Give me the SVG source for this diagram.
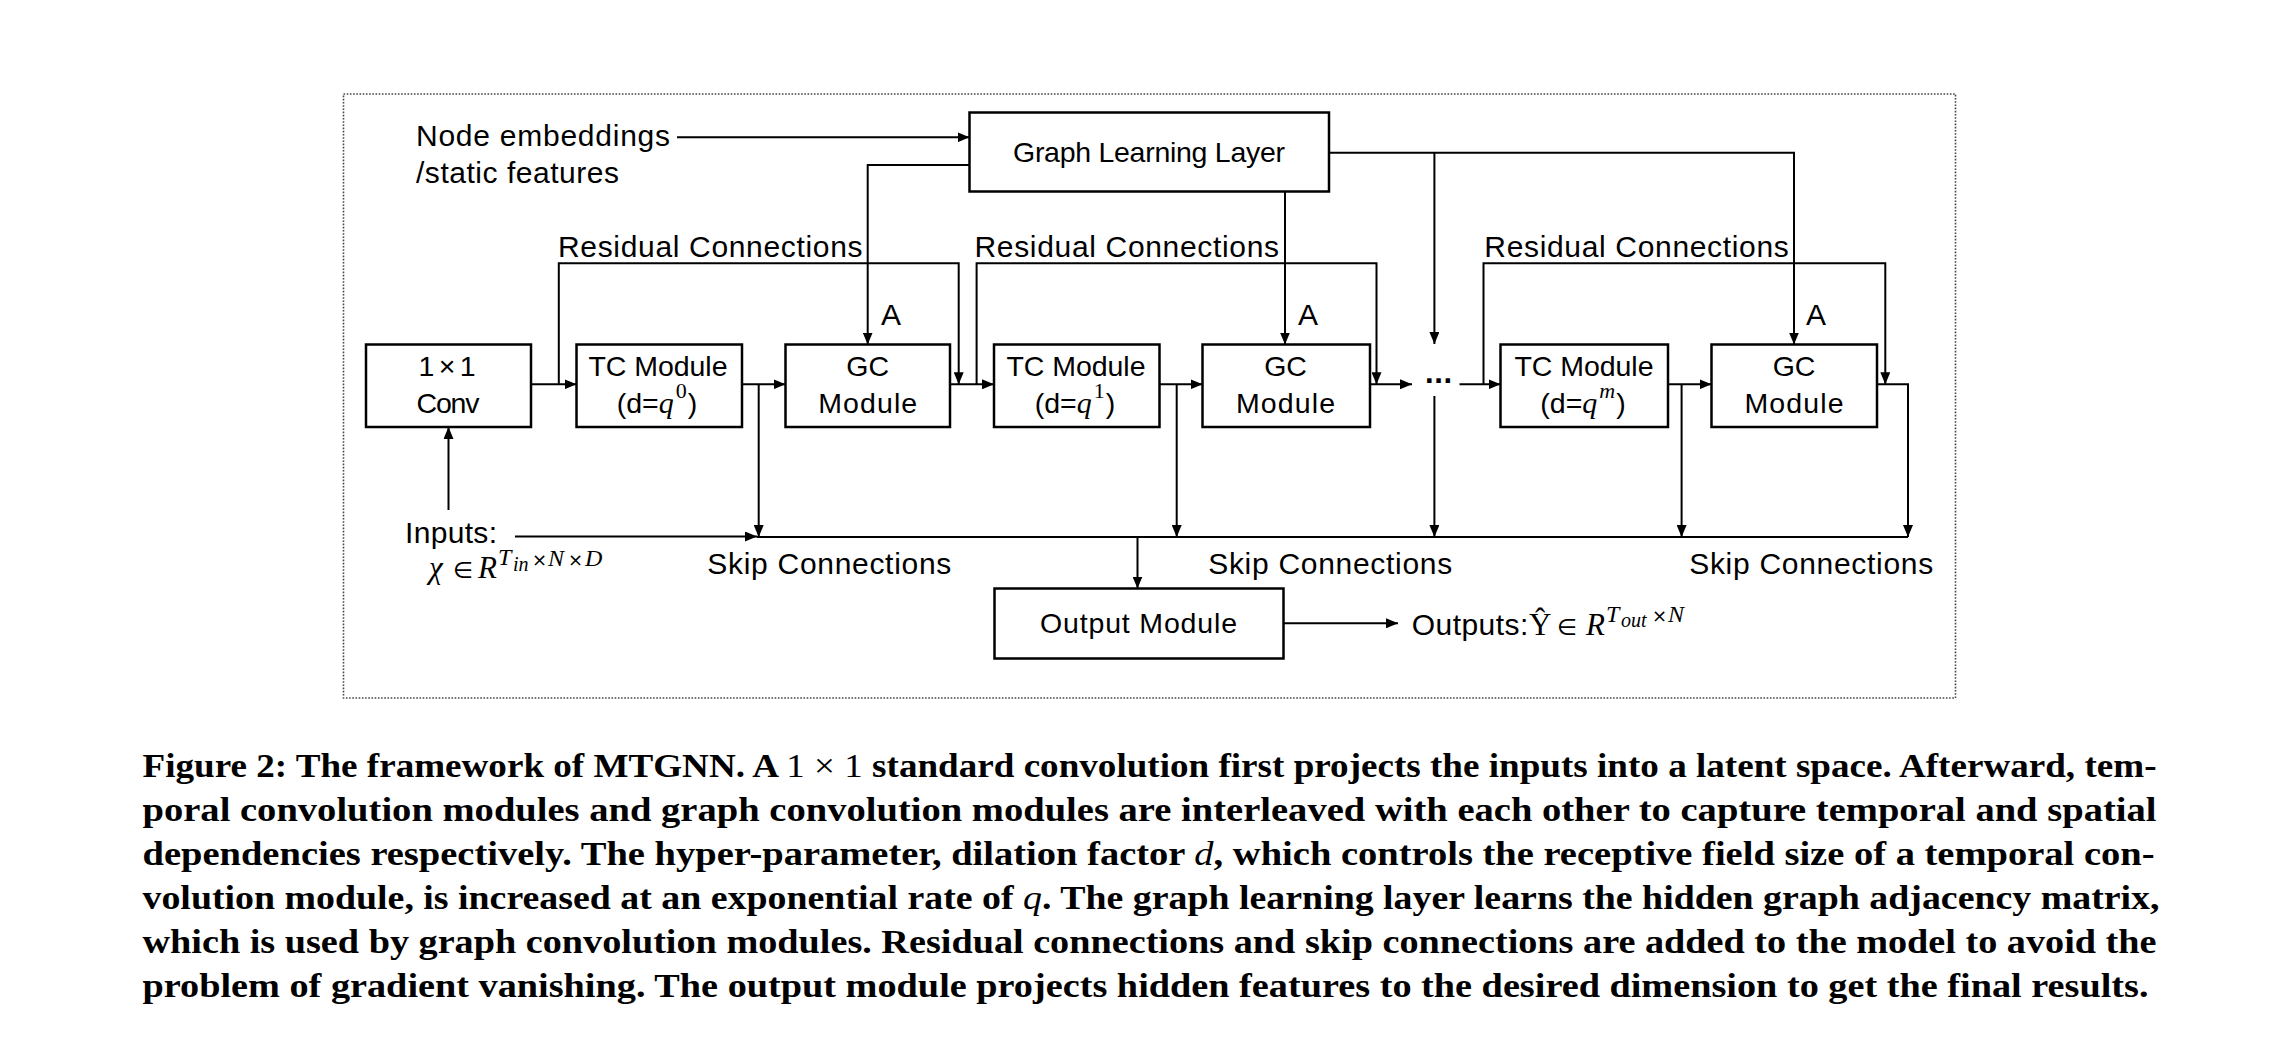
<svg xmlns="http://www.w3.org/2000/svg" width="2294" height="1038" viewBox="0 0 2294 1038">
<style>
.bg{fill:#fff}
.frame{fill:none;stroke:#444;stroke-width:1.6;stroke-dasharray:1.6,1.6}
.box{fill:#fff;stroke:#000;stroke-width:2.5}
.ln{fill:none;stroke:#000;stroke-width:2}
.ar{fill:none;stroke:#000;stroke-width:2;marker-end:url(#ah)}
.mod{font-family:"Liberation Sans",Arial,sans-serif;font-size:28.5px;fill:#000;text-anchor:middle}
.lbl{font-family:"Liberation Sans",Arial,sans-serif;font-size:30px;fill:#000}
.m{font-family:"Liberation Serif","Times New Roman",serif;font-style:italic;fill:#000}
.up{font-style:normal}
.sym{font-family:"DejaVu Sans",sans-serif;font-style:normal}
.cap{font-family:"Liberation Serif","Times New Roman",serif;font-weight:bold;font-size:34px;fill:#000}
.nb{font-weight:normal}
.it{font-weight:normal;font-style:italic}
</style>
<defs>
<marker id="ah" markerUnits="userSpaceOnUse" markerWidth="12" markerHeight="10" refX="12" refY="5" orient="auto">
<path d="M0,0 L12,5 L0,10 z" fill="#000"/>
</marker>
</defs>
<rect class="bg" x="0" y="0" width="2294" height="1038"/>
<rect id="frame" class="frame" x="343.5" y="94" width="1612" height="604"/>

<g id="connectors">
<path class="ar" d="M677,137.3 H969.5"/>
<path class="ar" d="M969.5,165 H867.7 V344.5"/>
<path class="ar" d="M1285,191.5 V344.5"/>
<path class="ar" d="M1329,152.7 H1794 V344.5"/>
<path class="ar" d="M1434.4,152.7 V344"/>
<path class="ar" d="M531,384.3 H576.5"/>
<path class="ar" d="M742,384.3 H785.5"/>
<path class="ar" d="M950,384.3 H994"/>
<path class="ar" d="M1159.5,384.3 H1202.5"/>
<path class="ar" d="M1370,384.3 H1412"/>
<path class="ar" d="M1459.5,384.3 H1500.5"/>
<path class="ar" d="M1668,384.3 H1711.5"/>
<path class="ar" d="M1877,384.3 H1908 V537"/>
<path class="ar" d="M558.8,384.3 V263.3 H958.7 V384.3"/>
<path class="ar" d="M976.6,384.3 V263.3 H1376.5 V384.3"/>
<path class="ar" d="M1483.5,384.3 V263.3 H1885.3 V384.3"/>
<path class="ar" d="M758.7,384.3 V537"/>
<path class="ar" d="M1176.7,384.3 V537"/>
<path class="ar" d="M1434.4,396 V537"/>
<path class="ar" d="M1681.6,384.3 V537"/>
<path class="ln" d="M757,537 H1908"/>
<path class="ar" d="M515,536.5 H757"/>
<path class="ar" d="M448.5,510 V427"/>
<path class="ar" d="M1137.5,537 V588.5"/>
<path class="ar" d="M1283.5,623.3 H1398"/>
</g>

<g id="node-gll">
<rect class="box" x="969.5" y="112.5" width="359.5" height="79"/>
<text class="mod" x="1149" y="161.7" textLength="272">Graph Learning Layer</text>
</g>
<g id="node-conv">
<rect class="box" x="366" y="344.5" width="165" height="82.5"/>
<text class="mod" x="447" y="376" textLength="57">1×1</text>
<text class="mod" x="448" y="413.3" textLength="63">Conv</text>
</g>
<g id="node-tc1">
<rect class="box" x="576.5" y="344.5" width="165.5" height="82.5"/>
<text class="mod" x="658" y="376" textLength="139">TC Module</text>
<text class="mod" x="657" y="413.3">(d=<tspan class="m" font-size="30">q</tspan><tspan class="m up" font-size="22" dx="2" dy="-15">0</tspan><tspan dx="1" dy="15">)</tspan></text>
</g>
<g id="node-gc1">
<rect class="box" x="785.5" y="344.5" width="164.5" height="82.5"/>
<text class="mod" x="867.7" y="376">GC</text>
<text class="mod" x="867.7" y="413.3" textLength="99">Module</text>
</g>
<g id="node-tc2">
<rect class="box" x="994" y="344.5" width="165.5" height="82.5"/>
<text class="mod" x="1076" y="376" textLength="139">TC Module</text>
<text class="mod" x="1075" y="413.3">(d=<tspan class="m" font-size="30">q</tspan><tspan class="m up" font-size="22" dx="2" dy="-15">1</tspan><tspan dx="1" dy="15">)</tspan></text>
</g>
<g id="node-gc2">
<rect class="box" x="1202.5" y="344.5" width="167.5" height="82.5"/>
<text class="mod" x="1285.5" y="376">GC</text>
<text class="mod" x="1285.5" y="413.3" textLength="99">Module</text>
</g>
<g id="node-dots">
<text x="1425" y="383" font-family="Liberation Sans, Arial, sans-serif" font-weight="bold" font-size="31" textLength="27">...</text>
</g>
<g id="node-tc3">
<rect class="box" x="1500.5" y="344.5" width="167.5" height="82.5"/>
<text class="mod" x="1584" y="376" textLength="139">TC Module</text>
<text class="mod" x="1583" y="413.3">(d=<tspan class="m" font-size="30">q</tspan><tspan class="m" font-size="22" dx="2" dy="-15">m</tspan><tspan dx="1" dy="15">)</tspan></text>
</g>
<g id="node-gc3">
<rect class="box" x="1711.5" y="344.5" width="165.5" height="82.5"/>
<text class="mod" x="1794" y="376">GC</text>
<text class="mod" x="1794" y="413.3" textLength="99">Module</text>
</g>
<g id="node-output">
<rect class="box" x="994.5" y="588.5" width="289" height="70"/>
<text class="mod" x="1138.5" y="633.3" textLength="197">Output Module</text>
</g>

<g id="labels">
<text class="lbl" x="416" y="146" textLength="254">Node embeddings</text>
<text class="lbl" x="416" y="182.7" textLength="203">/static features</text>
<text class="lbl" x="558" y="256.7" textLength="304.5">Residual Connections</text>
<text class="lbl" x="974.5" y="256.7" textLength="304.5">Residual Connections</text>
<text class="lbl" x="1484.3" y="256.7" textLength="304.5">Residual Connections</text>
<text class="lbl" x="881" y="325">A</text>
<text class="lbl" x="1298" y="325">A</text>
<text class="lbl" x="1806" y="325">A</text>
<text class="lbl" x="405" y="543.3" textLength="92">Inputs:</text>
<text class="m" y="578.3" font-size="31"><tspan x="429">χ</tspan><tspan class="sym" x="453" font-size="23">∈</tspan><tspan x="478">R</tspan><tspan x="498" y="565" font-size="24">T</tspan><tspan x="513" y="571" font-size="20">in</tspan><tspan class="sym" x="532" y="566" font-size="18">×</tspan><tspan x="548" y="566" font-size="24">N</tspan><tspan class="sym" x="568" y="566" font-size="18">×</tspan><tspan x="585" y="566" font-size="24">D</tspan></text>
<text class="lbl" x="707.3" y="574" textLength="244">Skip Connections</text>
<text class="lbl" x="1208.2" y="574" textLength="244">Skip Connections</text>
<text class="lbl" x="1689.2" y="574" textLength="244">Skip Connections</text>
<text class="lbl" x="1411.7" y="635" textLength="116.6">Outputs:</text>
<text class="m" y="635" font-size="31"><tspan class="up" x="1529">Ŷ</tspan><tspan class="sym" x="1557" font-size="23">∈</tspan><tspan x="1586">R</tspan><tspan x="1606" y="622" font-size="24">T</tspan><tspan x="1621" y="627" font-size="20">out</tspan><tspan class="sym" x="1652" y="622" font-size="18">×</tspan><tspan x="1668" y="622" font-size="24">N</tspan></text>
</g>

<g id="caption">
<text class="cap" x="142.5" y="777" textLength="2014" lengthAdjust="spacingAndGlyphs">Figure 2: The framework of MTGNN. A <tspan class="nb">1 × 1</tspan> standard convolution first projects the inputs into a latent space. Afterward, tem-</text>
<text class="cap" x="142.5" y="821" textLength="2014" lengthAdjust="spacingAndGlyphs">poral convolution modules and graph convolution modules are interleaved with each other to capture temporal and spatial</text>
<text class="cap" x="142.5" y="865" textLength="2012" lengthAdjust="spacingAndGlyphs">dependencies respectively. The hyper-parameter, dilation factor <tspan class="it">d</tspan>, which controls the receptive field size of a temporal con-</text>
<text class="cap" x="142.5" y="909" textLength="2017" lengthAdjust="spacingAndGlyphs">volution module, is increased at an exponential rate of <tspan class="it">q</tspan>. The graph learning layer learns the hidden graph adjacency matrix,</text>
<text class="cap" x="142.5" y="953" textLength="2014" lengthAdjust="spacingAndGlyphs">which is used by graph convolution modules. Residual connections and skip connections are added to the model to avoid the</text>
<text class="cap" x="142.5" y="997" textLength="2006" lengthAdjust="spacingAndGlyphs">problem of gradient vanishing. The output module projects hidden features to the desired dimension to get the final results.</text>
</g>
</svg>
